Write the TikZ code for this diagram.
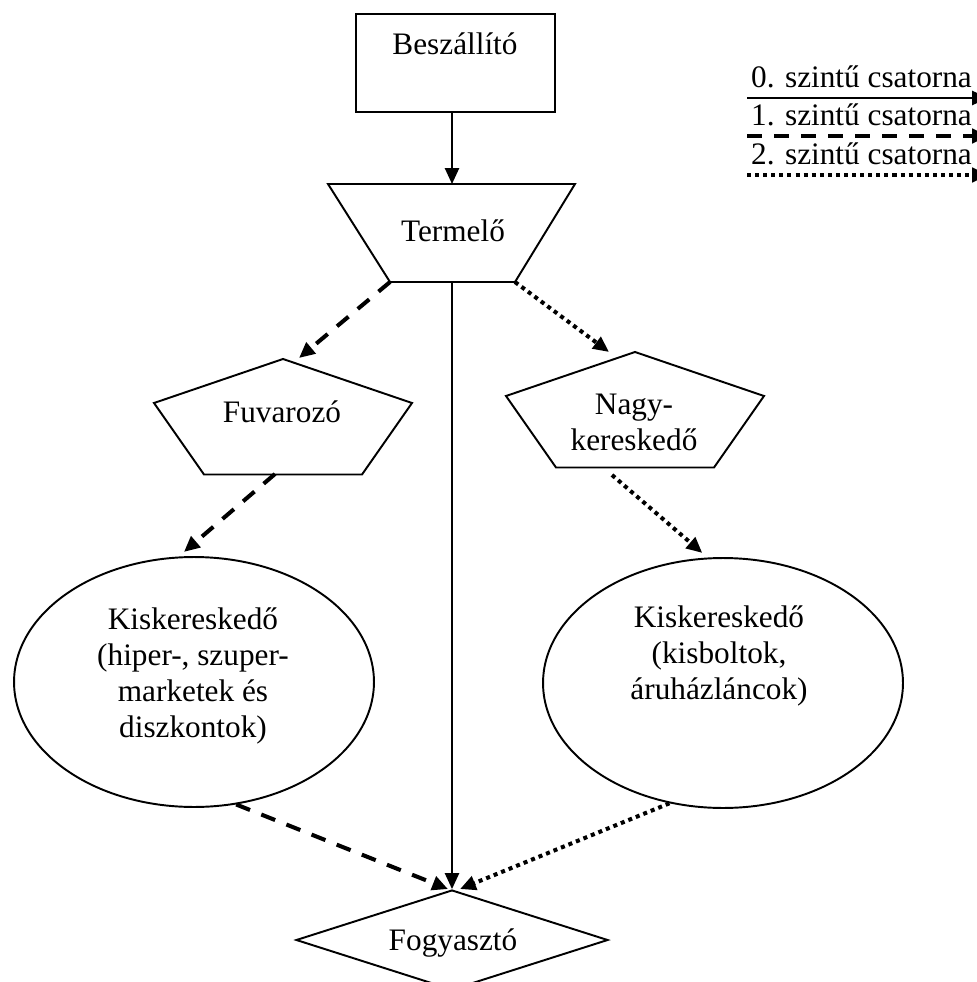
\documentclass[tikz,border=0pt]{standalone}
\usepackage{fontspec}
\setmainfont{Liberation Serif}
\usetikzlibrary{arrows.meta,shapes.geometric}

\begin{document}
\begin{tikzpicture}
    [
        x = 0.02cm,
        y = -0.02cm,
        every node/.style = {
            font = \fontsize{17.8}{20.5}\selectfont,
            inner sep = 0pt,
            align = center
        },
        outline/.style = {draw, line width = 1.1pt},
        tip/.style = {-{Triangle[length = 9pt, width = 8pt]}},
        level0/.style = {tip, line width = 1.1pt},
        level1/.style = {tip, line width = 2.3pt, dash pattern = on 8.5pt off 6.9pt},
        level2/.style = {tip, line width = 2.3pt, dash pattern = on 2.3pt off 2.3pt},
    ]

    \useasboundingbox (0,0) rectangle (976,982);

    % Beszállító
    \node [outline, minimum width = 3.98cm, minimum height = 1.96cm] (besz) at (455.5,63) {};
    \node [anchor = base] (besztext) at (455,55) {Beszállító};

    % Termelő
    \draw [outline] (328,184) -- (575,184) -- (515,282) -- (390,282) -- cycle;
    \node [anchor = base] (termtext) at (453,242) {Termelő};
    \coordinate (term-top) at (452,184);
    \coordinate (term-bot) at (452,282);
    \coordinate (term-left) at (390,282);
    \coordinate (term-right) at (515,282);

    % Fuvarozó
    \draw [outline] (283,359) -- ++(129,44) -- ++(-50,71.5) -- ++(-158,0) -- ++(-50,-71.5) -- cycle;
    \node [anchor = base] (fuvtext) at (282,422) {Fuvarozó};
    \coordinate (fuv-in) at (299,358);
    \coordinate (fuv-out) at (275,474);

    % Nagykereskedő
    \draw [outline] (635,352) -- ++(129,44) -- ++(-50,71.5) -- ++(-158,0) -- ++(-50,-71.5) -- cycle;
    \node [anchor = north] (nagytext) at (634,394) {Nagy-\\kereskedő};
    \coordinate (nagy-in) at (609,352);
    \coordinate (nagy-out) at (612,475);

    % Kiskereskedők
    \node [outline, ellipse, minimum width = 7.2cm, minimum height = 5cm] (kisl) at (194,682) {};
    \node [anchor = north] (kisltext) at (193,607) {Kiskereskedő\\(hiper-, szuper-\\marketek és\\diszkontok)};
    \node [outline, ellipse, minimum width = 7.2cm, minimum height = 5cm] (kisr) at (723,683) {};
    \node [anchor = north] (kisrtext) at (719,605) {Kiskereskedő\\(kisboltok,\\áruházláncok)};

    % Fogyasztó
    \node [outline, diamond, aspect = 3, minimum width = 6.24cm, minimum height = 2cm] (fogy) at (452,940) {};
    \node [anchor = base] (fogytext) at (453,950) {Fogyasztó};

    % csatornák
    \draw [level0] (besz.south -| term-top) -- (term-top);
    \draw [level0] (term-bot) -- (fogy.north);
    \draw [level1] (term-left) -- (fuv-in);
    \draw [level2] (term-right) -- (nagy-in);
    \draw [level1, shorten > = 4pt] (fuv-out) -- (kisl.97);
    \draw [level2, shorten > = 4pt] (nagy-out) -- (kisr.97);
    \draw [level1] (kisl.-71) -- ([xshift = -0.08cm]fogy.north);
    \draw [level2] (kisr.-114) -- ([xshift = 0.16cm]fogy.north);

    % jelmagyarázat
    \foreach \lvl/\ly in {0/98, 1/136, 2/175}
    {
        \draw [level\lvl] (747,\ly) -- (988,\ly);
        \node [anchor = base] (legend\lvl) at (861.5,\ly-10) {\lvl. szintű csatorna};
    }
\end{tikzpicture}
\end{document}
